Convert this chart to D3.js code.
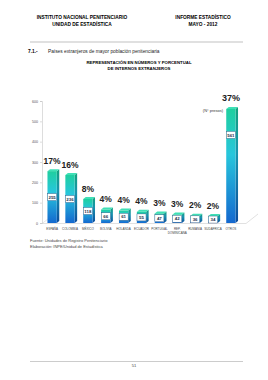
<!DOCTYPE html>
<html>
<head>
<meta charset="utf-8">
<script src="https://cdn.jsdelivr.net/npm/d3@7"></script>
<style>
  body { margin: 0; background: #fff; }
  text { font-family: "Liberation Sans", Arial, sans-serif; }
</style>
</head>
<body>
<script>
var svgWidth = 268;
var svgHeight = 380;

var paises = ["ESPAÑA", "COLOMBIA", "MÉXICO", "BOLIVIA", "HOLANDA", "ECUADOR", "PORTUGAL", "REP. DOMINICANA", "RUMANIA", "SUDÁFRICA", "OTROS"];
var internos = [255, 236, 118, 66, 61, 55, 47, 42, 36, 34, 561];
var porcentajes = ["17%", "16%", "8%", "4%", "4%", "4%", "3%", "3%", "2%", "2%", "37%"];
var yTicks = [0, 100, 200, 300, 400, 500, 600];

var svg = d3.select("body")
  .append("svg")
  .attr("width", svgWidth)
  .attr("height", svgHeight);

// encabezado
svg.append("text").attr("x", 82).attr("y", 19).attr("text-anchor", "middle")
  .style("font-size", "4.8px").style("font-weight", "bold").text("INSTITUTO NACIONAL PENITENCIARIO");
svg.append("text").attr("x", 82).attr("y", 26).attr("text-anchor", "middle")
  .style("font-size", "4.8px").style("font-weight", "bold").text("UNIDAD DE ESTADÍSTICA");
svg.append("text").attr("x", 203).attr("y", 19).attr("text-anchor", "middle")
  .style("font-size", "4.8px").style("font-weight", "bold").text("INFORME ESTADÍSTICO");
svg.append("text").attr("x", 203).attr("y", 26).attr("text-anchor", "middle")
  .style("font-size", "4.8px").style("font-weight", "bold").text("MAYO - 2012");
svg.append("line").attr("x1", 30).attr("x2", 243).attr("y1", 42).attr("y2", 42)
  .attr("stroke", "#999").attr("stroke-width", 0.6);

svg.append("text").attr("x", 28).attr("y", 52.5)
  .style("font-size", "4.8px").style("font-weight", "bold").text("7.1.-");
svg.append("text").attr("x", 48).attr("y", 52.5)
  .style("font-size", "4.8px").attr("fill", "#222")
  .text("Países extranjeros de mayor población penitenciaria");

svg.append("text").attr("x", 139).attr("y", 63.5).attr("text-anchor", "middle")
  .style("font-size", "4.3px").style("font-weight", "bold").text("REPRESENTACIÓN EN NÚMEROS Y PORCENTUAL");
svg.append("text").attr("x", 139).attr("y", 69.5).attr("text-anchor", "middle")
  .style("font-size", "4.3px").style("font-weight", "bold").text("DE INTERNOS EXTRANJEROS");

// escalas
var x = d3.scaleBand().domain(paises).range([43, 240]).paddingInner(0.48).paddingOuter(0.25);
var y = d3.scaleLinear().domain([0, 600]).range([223, 101]);

var defs = svg.append("defs");
var grad = defs.append("linearGradient").attr("id", "frente")
  .attr("x1", 0).attr("y1", 0).attr("x2", 0).attr("y2", 1);
grad.append("stop").attr("offset", "0%").attr("stop-color", "#1fcf9f");
grad.append("stop").attr("offset", "40%").attr("stop-color", "#27c6dc");
grad.append("stop").attr("offset", "100%").attr("stop-color", "#1468cf");
var grad2 = defs.append("linearGradient").attr("id", "lado")
  .attr("x1", 0).attr("y1", 0).attr("x2", 0).attr("y2", 1);
grad2.append("stop").attr("offset", "0%").attr("stop-color", "#14a07c");
grad2.append("stop").attr("offset", "40%").attr("stop-color", "#1894ae");
grad2.append("stop").attr("offset", "100%").attr("stop-color", "#0c4c9c");

// eje y
var eje = svg.append("g").attr("transform", "translate(42,0)")
  .call(d3.axisLeft(y).tickValues(yTicks).tickSize(2).tickPadding(2));
eje.select(".domain").attr("stroke", "#bbb").attr("stroke-width", 0.5);
eje.selectAll(".tick line").attr("stroke", "#bbb").attr("stroke-width", 0.5);
eje.selectAll(".tick text").style("font-size", "3.6px").attr("fill", "#555")
  .style("font-family", "Liberation Sans, Arial, sans-serif");

// piso 3D
svg.append("path")
  .attr("d", "M42,223.5 L246,223.5 L258,214")
  .attr("fill", "none").attr("stroke", "#ccc").attr("stroke-width", 0.6);
svg.append("path")
  .attr("d", "M42,223.5 L48,219")
  .attr("fill", "none").attr("stroke", "#ccc").attr("stroke-width", 0.5);

var dx = 2.5, dy = -2;
var bw = x.bandwidth();

var barras = svg.selectAll(".barra")
  .data(paises)
  .enter()
  .append("g")
  .attr("class", "barra");

barras.append("path")
  .attr("d", function(d, i) {
    var x0 = x(d) + bw, t = y(internos[i]), b = y(0);
    return "M" + x0 + "," + t + " L" + (x0 + dx) + "," + (t + dy) + " L" + (x0 + dx) + "," + (b + dy) + " L" + x0 + "," + b + "Z";
  })
  .attr("fill", "url(#lado)");

barras.append("path")
  .attr("d", function(d, i) {
    var x0 = x(d), t = y(internos[i]);
    return "M" + x0 + "," + t + " L" + (x0 + dx) + "," + (t + dy) + " L" + (x0 + bw + dx) + "," + (t + dy) + " L" + (x0 + bw) + "," + t + "Z";
  })
  .attr("fill", "#3fe0b6");

barras.append("rect")
  .attr("x", d => x(d))
  .attr("y", (d, i) => y(internos[i]))
  .attr("width", bw)
  .attr("height", (d, i) => y(0) - y(internos[i]))
  .attr("fill", "url(#frente)");

// valores en caja
barras.append("rect")
  .attr("x", d => x(d) + bw / 2 - 4.5)
  .attr("y", function(d, i) {
    var h = y(0) - y(internos[i]);
    return y(internos[i]) + Math.min(h / 2, 26) - 3.5;
  })
  .attr("width", 9)
  .attr("height", 7)
  .attr("fill", "#fff")
  .attr("stroke", "#2a4d7a")
  .attr("stroke-width", 0.4);

barras.append("text")
  .attr("x", d => x(d) + bw / 2)
  .attr("y", function(d, i) {
    var h = y(0) - y(internos[i]);
    return y(internos[i]) + Math.min(h / 2, 26) + 1.6;
  })
  .attr("text-anchor", "middle")
  .style("font-size", "4.4px")
  .style("font-weight", "bold")
  .attr("fill", "#1d2f4a")
  .text((d, i) => internos[i]);

// porcentajes
barras.append("text")
  .attr("x", d => x(d) + bw / 2)
  .attr("y", (d, i) => y(internos[i]) - 7.5)
  .attr("text-anchor", "middle")
  .style("font-size", (d, i) => i === paises.length - 1 ? "9px" : "8.5px")
  .style("font-weight", "bold")
  .attr("fill", "#222")
  .text((d, i) => porcentajes[i]);

// etiquetas de categorias
barras.append("text")
  .attr("x", d => x(d) + bw / 2)
  .attr("y", 229.5)
  .attr("text-anchor", "middle")
  .style("font-size", "3px")
  .attr("fill", "#444")
  .each(function(d) {
    var partes = d.split(" ");
    var t = d3.select(this);
    if (partes.length > 1) {
      t.append("tspan").attr("x", x(d) + bw / 2).attr("dy", 0).text(partes[0]);
      t.append("tspan").attr("x", x(d) + bw / 2).attr("dy", 4.5).text(partes[1]);
    } else {
      t.text(d);
    }
  });

svg.append("text").attr("x", 213).attr("y", 112).attr("text-anchor", "middle")
  .style("font-size", "4px").attr("fill", "#333").text("(N° presos)");

// notas
svg.append("text").attr("x", 30).attr("y", 242)
  .style("font-size", "4px").attr("fill", "#444").text("Fuente: Unidades de Registro Penitenciario");
svg.append("text").attr("x", 30).attr("y", 247.5)
  .style("font-size", "4px").attr("fill", "#444").text("Elaboración: INPE/Unidad de Estadística");

// pie de pagina
svg.append("line").attr("x1", 30).attr("x2", 243).attr("y1", 361.5).attr("y2", 361.5)
  .attr("stroke", "#aaa").attr("stroke-width", 0.6);
svg.append("text").attr("x", 134).attr("y", 366.5).attr("text-anchor", "middle")
  .style("font-size", "4px").attr("fill", "#444").text("51");
</script>
</body>
</html>
